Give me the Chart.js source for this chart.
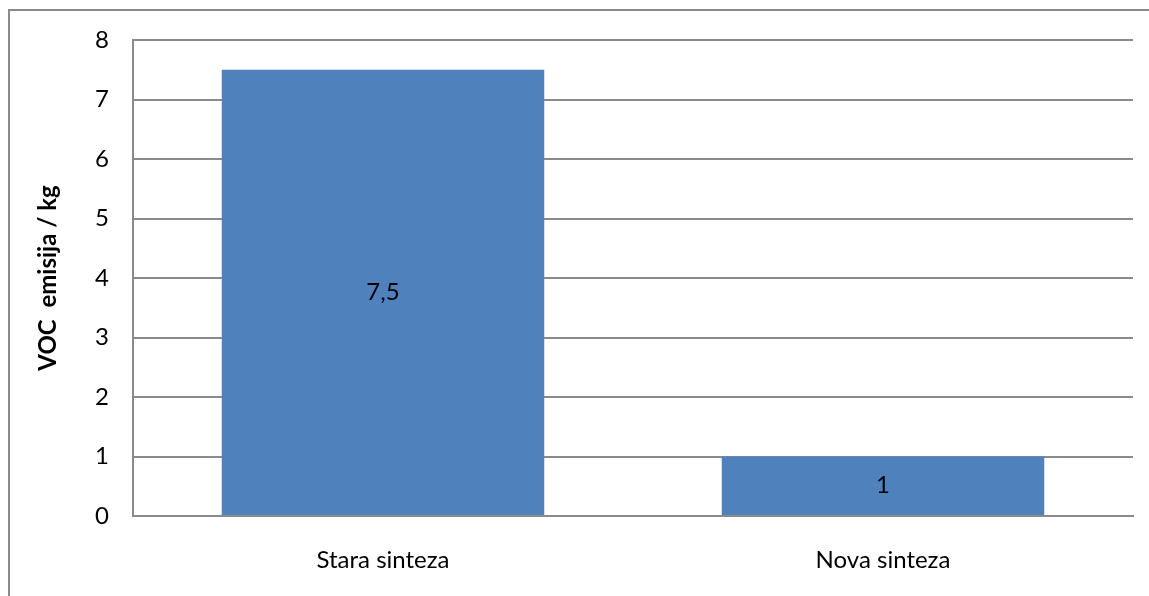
<!DOCTYPE html>
<html>
<head>
<meta charset="utf-8">
<script src="https://cdn.jsdelivr.net/npm/chart.js@4"></script>
<style>
  html, body { margin: 0; padding: 0; background: #fff; }
  #okvir { position: absolute; left: 8px; top: 9px; width: 1160px; height: 620px; border: 2px solid #8a8a8a; }
  #wrap { position: absolute; left: 0; top: 0; width: 1149px; height: 596px; }
</style>
</head>
<body>
<div id="okvir"></div>
<div id="wrap"><canvas id="grafikon" width="1149" height="596"></canvas></div>
<script>
/* PODACI */
const kategorije = ["Stara sinteza", "Nova sinteza"]
const vocEmisija = [7.5, 1]
const naslovY = "VOC  emisija / kg"

const fontFamily = "Lato, 'Open Sans', sans-serif"
const velicina = 24

/* oznake vrijednosti u sredini stupca */
const oznakePlugin = {
    id: "oznake",
    afterDatasetsDraw(chart) {
        const ctx = chart.ctx
        const meta = chart.getDatasetMeta(0)
        ctx.save()
        ctx.font = velicina + "px " + fontFamily
        ctx.fillStyle = "#000"
        ctx.textAlign = "center"
        ctx.textBaseline = "middle"
        meta.data.forEach((bar, i) => {
            const v = chart.data.datasets[0].data[i]
            const y = (bar.y + bar.base) / 2
            ctx.fillText(String(v).replace(".", ","), bar.x, y)
        })
        ctx.restore()
    }
}

let ctx = document.getElementById("grafikon").getContext("2d")

let chart = new Chart(ctx, {
    type: "bar",
    data: {
        labels: kategorije,
        datasets: [{
            data: vocEmisija,
            backgroundColor: "#4f81bd",
            categoryPercentage: 1,
            barPercentage: 0.645
        }]
    },
    options: {
        responsive: false,
        animation: false,
        events: [],
        layout: { padding: { top: 40, right: 16, left: 0, bottom: 0 } },
        plugins: {
            legend: { display: false },
            tooltip: { enabled: false }
        },
        scales: {
            x: {
                grid: { display: false, drawTicks: false },
                border: { color: "#8a8a8a", width: 2 },
                ticks: { color: "#000", font: { family: fontFamily, size: velicina }, padding: 30 },
                afterFit(scale) { scale.height = 80 }
            },
            y: {
                min: 0,
                max: 8,
                ticks: { stepSize: 1, color: "#000", font: { family: fontFamily, size: velicina }, padding: 24 },
                grid: { color: "#8a8a8a", lineWidth: 2, drawTicks: false },
                border: { color: "#8a8a8a", width: 2 },
                title: {
                    display: true,
                    text: naslovY,
                    color: "#000",
                    padding: { top: 34, bottom: 0 },
                    font: { family: fontFamily, size: velicina, weight: "bold" }
                },
                afterFit(scale) { scale.width = 133 }
            }
        }
    },
    plugins: [oznakePlugin]
})
</script>
</body>
</html>
